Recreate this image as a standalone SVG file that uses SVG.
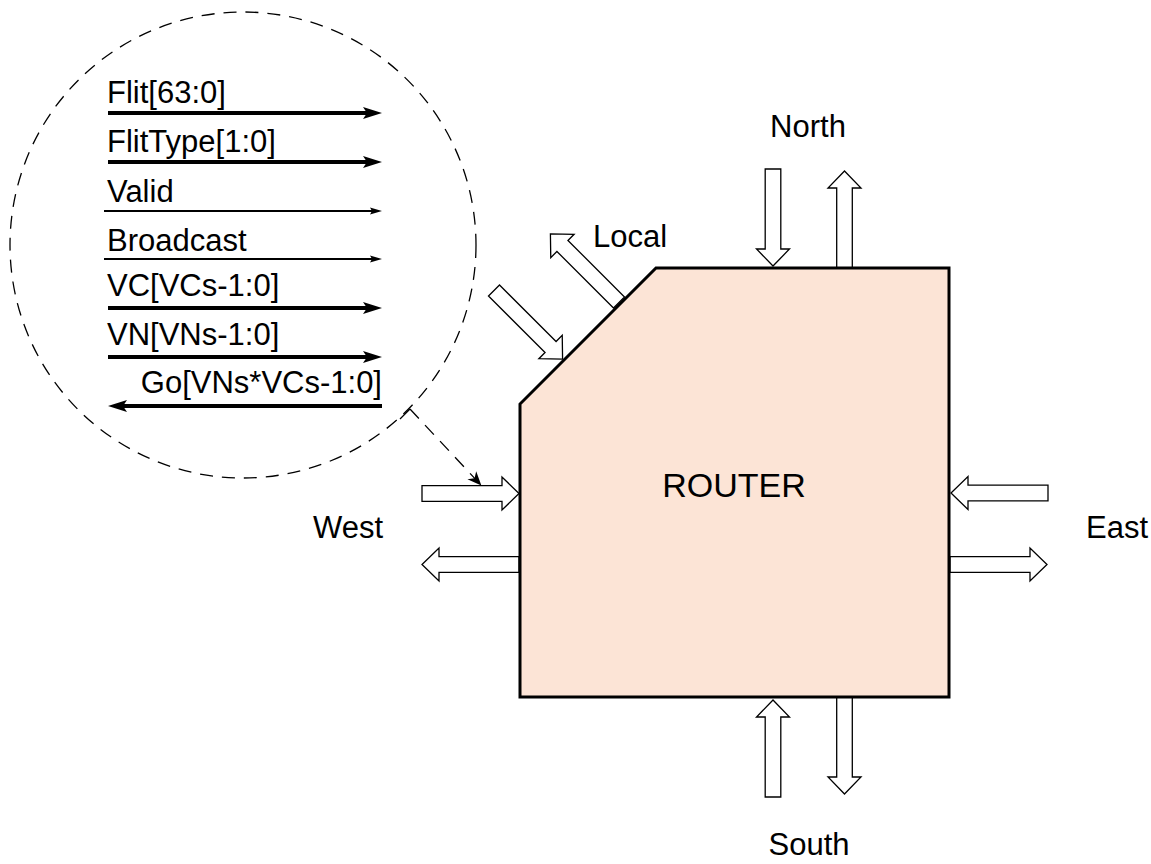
<svg xmlns="http://www.w3.org/2000/svg" width="1151" height="864" viewBox="0 0 1151 864">
<style>
.lbl{font-family:"Liberation Sans",Arial,sans-serif;font-size:31px;fill:#000}
.big{font-family:"Liberation Sans",Arial,sans-serif;font-size:34px;fill:#000}
.blk{fill:#fff;stroke:#000;stroke-width:1.3}
.thick{stroke:#000;stroke-width:4;fill:none}
.thin{stroke:#000;stroke-width:2;fill:none}
.dash{stroke:#000;stroke-width:1.3;fill:none;stroke-dasharray:13 9}
</style>
<defs>
<path id="blockArrow" class="blk" d="M0,-7.8 H80 V-16.5 L97,0 L80,16.5 V7.8 H0 Z"/>
<marker id="headThick" markerUnits="userSpaceOnUse" markerWidth="20" markerHeight="12" refX="5" refY="6" orient="auto" overflow="visible">
<path d="M0,0 L19,6 L0,12 L4,6 Z" fill="#000"/>
</marker>
<marker id="headThin" markerUnits="userSpaceOnUse" markerWidth="13" markerHeight="7" refX="3" refY="3.5" orient="auto" overflow="visible">
<path d="M0,0 L12,3.5 L0,7 L2,3.5 Z" fill="#000"/>
</marker>
<marker id="headDash" markerUnits="userSpaceOnUse" markerWidth="14" markerHeight="12" refX="12" refY="6" orient="auto" overflow="visible">
<path d="M0,0 L14,6 L0,12 L4,6 Z" fill="#000"/>
</marker>
</defs>
<rect width="1151" height="864" fill="#fff"/>

<g id="interface">
<circle cx="243" cy="245" r="233" class="dash"/>
<text class="lbl" x="107" y="103">Flit[63:0]</text>
<path class="thick" d="M108,113 H368" marker-end="url(#headThick)"/>
<text class="lbl" x="107" y="152">FlitType[1:0]</text>
<path class="thick" d="M108,162 H368" marker-end="url(#headThick)"/>
<text class="lbl" x="107" y="202">Valid</text>
<path class="thin" d="M104,211 H373" marker-end="url(#headThin)"/>
<text class="lbl" x="107" y="251">Broadcast</text>
<path class="thin" d="M104,259 H373" marker-end="url(#headThin)"/>
<text class="lbl" x="107" y="296">VC[VCs-1:0]</text>
<path class="thick" d="M108,308 H368" marker-end="url(#headThick)"/>
<text class="lbl" x="107" y="345">VN[VNs-1:0]</text>
<path class="thick" d="M108,357 H368" marker-end="url(#headThick)"/>
<text class="lbl" x="382" y="393" text-anchor="end">Go[VNs*VCs-1:0]</text>
<path class="thick" d="M382,406 H122" marker-end="url(#headThick)"/>
</g>

<g id="connectors">
<path d="M400,419 L410,409" stroke="#000" stroke-width="1.3" fill="none"/>
<path class="dash" d="M410,409 L480,484" marker-end="url(#headDash)"/>
</g>

<g id="north">
<use href="#blockArrow" transform="translate(773,169) rotate(90)"/>
<use href="#blockArrow" transform="translate(844.5,268) rotate(-90)"/>
<text class="lbl" x="808" y="137" text-anchor="middle">North</text>
</g>
<g id="south">
<use href="#blockArrow" transform="translate(773,797) rotate(-90)"/>
<use href="#blockArrow" transform="translate(844.5,697) rotate(90)"/>
<text class="lbl" x="809" y="855" text-anchor="middle">South</text>
</g>
<g id="west">
<use href="#blockArrow" transform="translate(422,493.5)"/>
<use href="#blockArrow" transform="translate(519,564.5) rotate(180)"/>
<text class="lbl" x="313" y="538">West</text>
</g>
<g id="east">
<use href="#blockArrow" transform="translate(1048,493) rotate(180)"/>
<use href="#blockArrow" transform="translate(950,564.5)"/>
<text class="lbl" x="1086" y="538">East</text>
</g>
<g id="local">
<use href="#blockArrow" transform="translate(494,290.5) rotate(45)"/>
<use href="#blockArrow" transform="translate(619,302.5) rotate(-135)"/>
<text class="lbl" x="593" y="247">Local</text>
</g>

<g id="router">
<path d="M656,268 H949 V697 H520 V404 Z" fill="#FCE4D6" stroke="#000" stroke-width="3" stroke-linejoin="miter"/>
<text class="big" x="734" y="497" text-anchor="middle">ROUTER</text>
</g>
</svg>
